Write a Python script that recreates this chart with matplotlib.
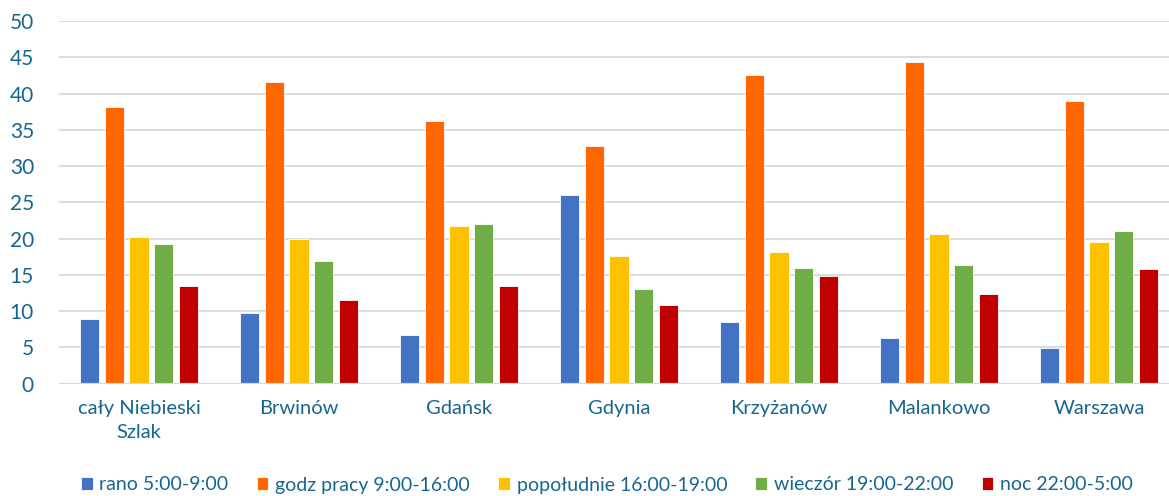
import matplotlib
matplotlib.use("Agg")
import matplotlib.pyplot as plt
import numpy as np

plt.rcParams['font.family'] = ['Lato', 'DejaVu Sans']

categories = ["cały Niebieski\nSzlak", "Brwinów", "Gdańsk", "Gdynia",
              "Krzyżanów", "Malankowo", "Warszawa"]
series_names = ["rano 5:00-9:00", "godz pracy 9:00-16:00",
                "popołudnie 16:00-19:00", "wieczór 19:00-22:00",
                "noc 22:00-5:00"]
rano = [8.9, 9.7, 6.7, 26.0, 8.5, 6.3, 4.9]
godz_pracy = [38.1, 41.6, 36.2, 32.7, 42.6, 44.4, 39.0]
popoludnie = [20.2, 20.0, 21.7, 17.6, 18.2, 20.7, 19.5]
wieczor = [19.3, 16.9, 22.0, 13.0, 16.0, 16.4, 21.0]
noc = [13.5, 11.6, 13.4, 10.8, 14.8, 12.3, 15.8]
yticks = list(range(0, 51, 5))

series = [rano, godz_pracy, popoludnie, wieczor, noc]
colors = ["#4472C4", "#FF6600", "#FFC000", "#70AD47", "#C00000"]
text_color = "#17668F"

fig = plt.figure(figsize=(11.69, 4.96), dpi=100)
ax = fig.add_axes([59 / 1169, 112.3 / 496, 1120 / 1169, 0.7313])

x = np.arange(len(categories))
step = 0.154
width = 0.122
for i, (vals, col, name) in enumerate(zip(series, colors, series_names)):
    ax.bar(x + (i - 2) * step, vals, width, color=col, label=name,
           edgecolor="white", linewidth=0.6, zorder=3)

ax.set_xlim(-0.5, len(categories) - 0.5)
ax.set_ylim(0, 50)
ax.set_yticks(yticks)
ax.set_yticklabels([str(t) for t in yticks])
ax.set_xticks(x)
ax.set_xticklabels(categories, linespacing=1.5)

ax.grid(axis="y", color="#D9D9D9", linewidth=1.3, zorder=0)
ax.set_axisbelow(True)
for s in ax.spines.values():
    s.set_visible(False)
ax.axhline(0, color="#D9D9D9", linewidth=1.6, zorder=4)

ax.tick_params(axis="both", length=0, labelsize=15, labelcolor=text_color)
ax.tick_params(axis="x", labelsize=14.5, pad=12)
ax.tick_params(axis="y", pad=18)

leg = fig.legend(loc="center", bbox_to_anchor=(607 / 1169, 11 / 496),
                 ncol=5, frameon=False, fontsize=14, labelcolor=text_color,
                 handlelength=0.6, handleheight=0.6, handletextpad=0.35,
                 columnspacing=1.45)

fig.savefig("out.png", dpi=100)
